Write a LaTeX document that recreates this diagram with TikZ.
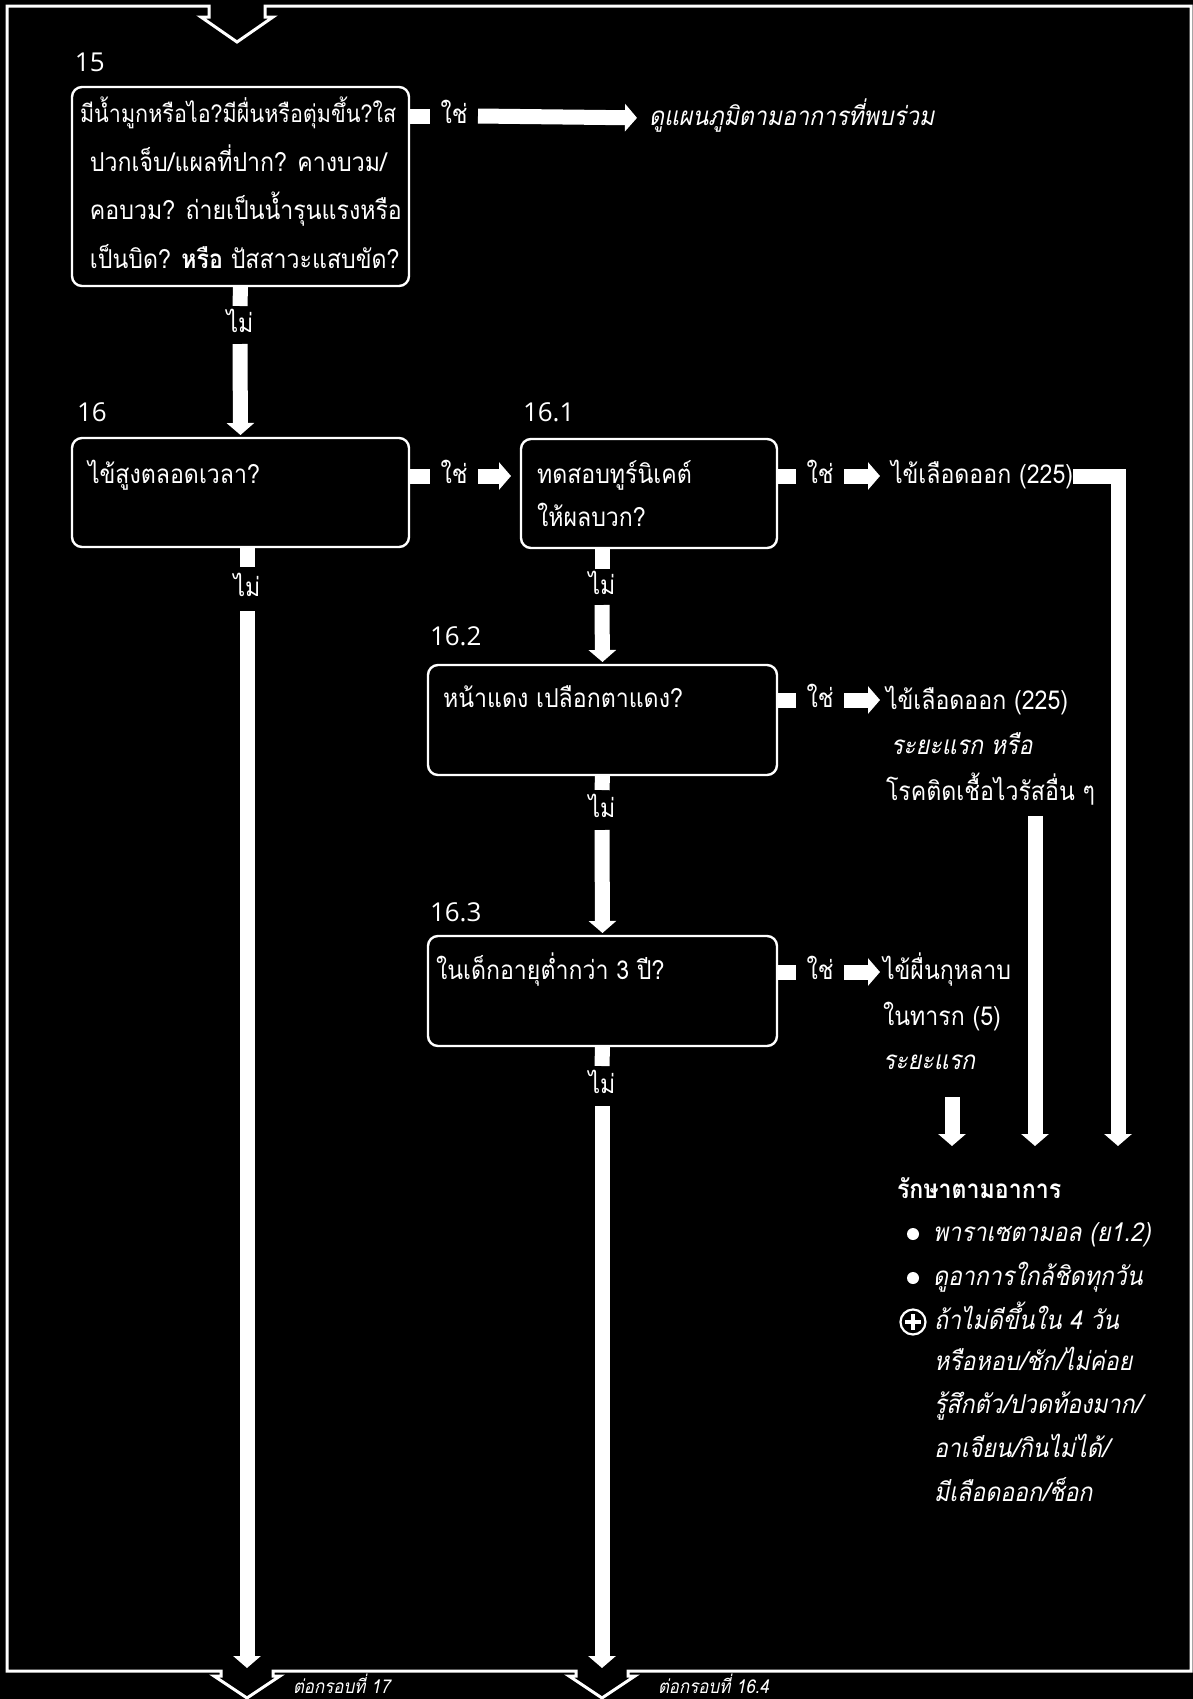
\documentclass[tikz,border=0pt]{standalone}
\usepackage{fontspec}
\setmainfont[Script=Thai,FakeStretch=0.89]{Loma}
\newfontfamily\thaislant[Script=Thai,FakeStretch=0.89,FakeSlant=0.2]{Loma}
\newfontfamily\stepfont{Open Sans}
\usetikzlibrary{arrows.meta}
\begin{document}
\begin{tikzpicture}[x=0.5pt,y=-0.5pt,
  every node/.style={inner sep=0pt, outer sep=0pt, text=white},
  th/.style={font=\fontsize{13}{13}\selectfont, text height=7pt, text depth=0pt, anchor=west},
  thi/.style={th, font=\thaislant\fontsize{13}{13}\selectfont},
  stepno/.style={font=\stepfont\fontsize{13}{13}\selectfont, anchor=west},
  qbox/.style={draw=white, line width=1.2pt, rounded corners=5pt, anchor=north west},
  stub/.style={draw=white, line width=7.5pt},
  arr/.style={draw=white, line width=7.5pt, line join=miter, -{Triangle[width=13.5pt,length=6pt]}},
  yes/.style={th, anchor=center, minimum width=24pt},
  no/.style={th, anchor=center},
  frame/.style={draw=white, line width=1.5pt, line join=miter},
  dot/.style={circle, fill=white, minimum size=6pt},
]
\fill[black] (0,0) rectangle (1193,1699);
\useasboundingbox (0,0) rectangle (1193,1699);

% outer frame with the entry chevron on top and two exit chevrons below
\draw[frame] (7,6) -- (209,6) -- (209,17) -- (201,17) -- (237,42) -- (273,17) -- (265,17) -- (265,6)
  -- (1191,6) -- (1191,1671)
  -- (628,1671) -- (628,1676) -- (635,1676) -- (602,1698) -- (569,1676) -- (576,1676) -- (576,1671)
  -- (273,1671) -- (273,1676) -- (280,1676) -- (247,1698) -- (214,1676) -- (221,1676) -- (221,1671)
  -- (7,1671) -- cycle;

% column guides and free arrow ends
\coordinate (c1) at (247,0);
\coordinate (c2) at (602,0);
\coordinate (x17) at (247,1668);
\coordinate (x164) at (602,1668);
\coordinate (a1) at (952,1146);
\coordinate (a2) at (1035,1146);
\coordinate (a3) at (1118,1146);

% ---- step 15
\node[stepno] (n15) at (75,62) {15};
\node[qbox, minimum width=168.5pt, minimum height=99.5pt] (b15) at (72,87) {};
\node[th, font=\fontsize{12.1}{12.1}\selectfont] (t15a) at (80,115) {มีน้ำมูกหรือไอ?มีผื่นหรือตุ่มขึ้น?ใส};
\node[th] (t15b) at (90,164) {ปวกเจ็บ/แผลที่ปาก? คางบวม/};
\node[th] (t15c) at (90,212) {คอบวม? ถ่ายเป็นน้ำรุนแรงหรือ};
\node[th] (t15d) at (90,261) {เป็นบิด? \textbf{หรือ} ปัสสาวะแสบขัด?};
\node[yes] (y15) at (454,116) {ใช่};
\node[thi] (see) at (649,118) {ดูแผนภูมิตามอาการที่พบร่วม};
\draw[stub] (b15.east |- y15.west) -- (y15.west);
\draw[arr, shorten >=6pt] (y15.east) -- (see.west);
\node[no, minimum height=19pt] (no15) at (240,325) {ไม่};
\draw[stub] (b15.south) -- (no15.north);

% ---- step 16
\node[stepno] (n16) at (77,412) {16};
\node[qbox, minimum width=168.5pt, minimum height=54.5pt] (b16) at (72,438) {};
\node[th] (t16) at (88,476) {ไข้สูงตลอดเวลา?};
\draw[arr, shorten >=1.5pt] (no15.south) -- (b16.north);
\node[yes] (y16) at (454,476) {ใช่};
\draw[stub] (b16.east |- y16.west) -- (y16.west);
\node[no, minimum height=22pt] (no16) at (247,589) {ไม่};
\draw[stub] (b16.south -| c1) -- (no16.north);
\draw[arr] (no16.south) -- (x17);

% ---- step 16.1
\node[stepno] (n161) at (523,412) {16.1};
\node[qbox, minimum width=128pt, minimum height=54.5pt] (b161) at (521,439) {};
\node[th] (t161a) at (537,476) {ทดสอบทูร์นิเคต์};
\node[th] (t161b) at (537,519) {ให้ผลบวก?};
\draw[arr, shorten >=5pt] (y16.east) -- (b161.west |- y16.east);
\node[yes] (y161) at (820,476) {ใช่};
\node[th] (dhf1) at (891,476) {ไข้เลือดออก (225)};
\draw[stub] (b161.east |- y161.west) -- (y161.west);
\draw[arr, shorten >=5.5pt] (y161.east) -- (dhf1.west);
\draw[arr] (dhf1.east) -| (a3);
\node[no, minimum height=18pt] (no161) at (602,587) {ไม่};
\draw[stub] (b161.south -| c2) -- (no161.north);

% ---- step 16.2
\node[stepno] (n162) at (430,636) {16.2};
\node[qbox, minimum width=174.5pt, minimum height=55pt] (b162) at (428,665) {};
\node[th] (t162) at (443,700) {หน้าแดง เปลือกตาแดง?};
\draw[arr, shorten >=1.5pt] (no161.south) -- (b162.north);
\node[yes] (y162) at (820,700) {ใช่};
\node[th] (dhf2) at (886,702) {ไข้เลือดออก (225)};
\node[thi] (early2) at (891,747) {ระยะแรก หรือ};
\node[th] (virus) at (886,793) {โรคติดเชื้อไวรัสอื่น ๆ};
\draw[stub] (b162.east |- y162.west) -- (y162.west);
\draw[arr, shorten >=3pt] (y162.east) -- (dhf2.west |- y162.east);
\draw[arr, shorten <=8pt] (virus.south -| a2) -- (a2);
\node[no, minimum height=20pt] (no162) at (602,810) {ไม่};
\draw[stub] (b162.south) -- (no162.north);

% ---- step 16.3
\node[stepno] (n163) at (430,912) {16.3};
\node[qbox, minimum width=174.5pt, minimum height=55pt] (b163) at (428,936) {};
\node[th] (t163) at (436,972) {ในเด็กอายุต่ำกว่า 3 ปี?};
\draw[arr, shorten >=1.5pt] (no162.south) -- (b163.north);
\node[yes] (y163) at (820,972) {ใช่};
\node[th] (ros1) at (883,972) {ไข้ผื่นกุหลาบ};
\node[th] (ros2) at (883,1018) {ในทารก (5)};
\node[thi] (early3) at (883,1062) {ระยะแรก};
\draw[stub] (b163.east |- y163.west) -- (y163.west);
\draw[arr, shorten >=1.5pt] (y163.east) -- (ros1.west);
\draw[arr, shorten <=14pt] (early3.south -| a1) -- (a1);
\node[no, minimum height=20pt] (no163) at (602,1086) {ไม่};
\draw[stub] (b163.south) -- (no163.north);
\draw[arr] (no163.south) -- (x164);

% ---- supportive care
\node[th, font=\bfseries\fontsize{13}{13}\selectfont] (treat) at (897,1191) {รักษาตามอาการ};
\node[dot] (d1) at (913,1234) {};
\node[thi] (tr1) at (933,1234) {พาราเซตามอล (ย1.2)};
\node[dot] (d2) at (913,1278) {};
\node[thi] (tr2) at (933,1278) {ดูอาการใกล้ชิดทุกวัน};
\node[circle, draw=white, line width=1.1pt, minimum size=12.5pt] (refer) at (913,1322) {};
\draw[white, line width=2.4pt] ([xshift=-3.8pt]refer.center) -- ([xshift=3.8pt]refer.center);
\draw[white, line width=2.4pt] ([yshift=-3.8pt]refer.center) -- ([yshift=3.8pt]refer.center);
\node[thi] (tr3) at (934,1322) {ถ้าไม่ดีขึ้นใน 4 วัน};
\node[thi] (tr4) at (934,1363) {หรือหอบ/ชัก/ไม่ค่อย};
\node[thi] (tr5) at (934,1406) {รู้สึกตัว/ปวดท้องมาก/};
\node[thi] (tr6) at (934,1450) {อาเจียน/กินไม่ได้/};
\node[thi] (tr7) at (934,1494) {มีเลือดออก/ช็อก};

% ---- continuation notes
\node[thi, font=\thaislant\fontsize{9.5}{9.5}\selectfont] (go17) at (293,1686) {ต่อกรอบที่ 17};
\node[thi, font=\thaislant\fontsize{9.5}{9.5}\selectfont] (go164) at (658,1686) {ต่อกรอบที่ 16.4};
\end{tikzpicture}
\end{document}
